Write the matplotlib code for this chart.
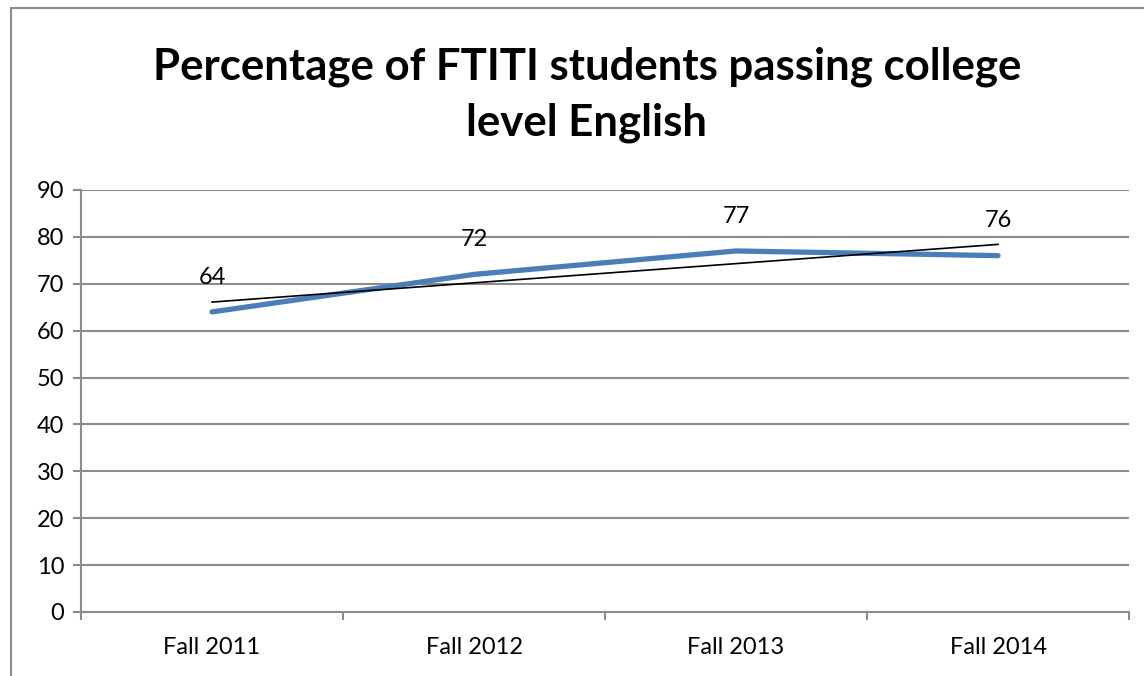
import matplotlib
matplotlib.use("Agg")
import matplotlib.pyplot as plt
import numpy as np
from matplotlib.lines import Line2D


terms = ["Fall 2011", "Fall 2012", "Fall 2013", "Fall 2014"]
pass_rate = [64, 72, 77, 76]
y_ticks = [0, 10, 20, 30, 40, 50, 60, 70, 80, 90]

plt.rcParams["font.family"] = ["Lato", "DejaVu Sans"]

fig = plt.figure(figsize=(11.44, 6.76), dpi=100)
ax = fig.add_axes([81 / 1144, 1 - 612 / 676, (1129 - 81) / 1144, (612 - 190) / 676])

x = np.arange(len(terms))

# grid lines
for v in y_ticks:
    ax.axhline(v, color="#8c8c8c", lw=1.5, zorder=1)

ax.plot(x, pass_rate, color="#4a7ebb", lw=3.8, solid_capstyle="round", zorder=3)

# linear trend line
slope, intercept = np.polyfit(x, pass_rate, 1)
ax.plot(x, slope * x + intercept, color="black", lw=1.2, zorder=4)

for xi, yi in zip(x, pass_rate):
    ax.annotate(str(yi), (xi, yi), xytext=(0, 25), textcoords="offset points",
                ha="center", va="center", fontsize=17)

ax.set_xlim(-0.5, len(terms) - 0.5)
ax.set_ylim(0, 90)
ax.set_yticks(y_ticks)
ax.set_xticks(x)
ax.set_xticklabels(terms)
ax.set_xticks(np.arange(len(terms) + 1) - 0.5, minor=True)
ax.tick_params(axis="x", which="major", length=0, pad=18, labelsize=17)
ax.tick_params(axis="x", which="minor", length=6, width=1.5, color="#8c8c8c")
ax.tick_params(axis="y", length=6, width=1.5, color="#8c8c8c", labelsize=17, pad=6)

for s in ["top", "right"]:
    ax.spines[s].set_visible(False)
for s in ["left", "bottom"]:
    ax.spines[s].set_color("#8c8c8c")
    ax.spines[s].set_linewidth(1.5)

fig.text(587 / 1144, 1 - 67 / 676, "Percentage of FTITI students passing college",
         ha="center", va="center", fontsize=31.5, fontweight="bold")
fig.text(587 / 1144, 1 - 123 / 676, "level English",
         ha="center", va="center", fontsize=31.5, fontweight="bold")

# chart frame (left and top edges visible)
fig.add_artist(Line2D([11 / 1144, 11 / 1144], [0, 1 - 8 / 676], transform=fig.transFigure,
                      color="#8c8c8c", lw=1.5))
fig.add_artist(Line2D([11 / 1144, 1], [1 - 8 / 676, 1 - 8 / 676], transform=fig.transFigure,
                      color="#8c8c8c", lw=1.5))

fig.savefig("out.png", dpi=100)
